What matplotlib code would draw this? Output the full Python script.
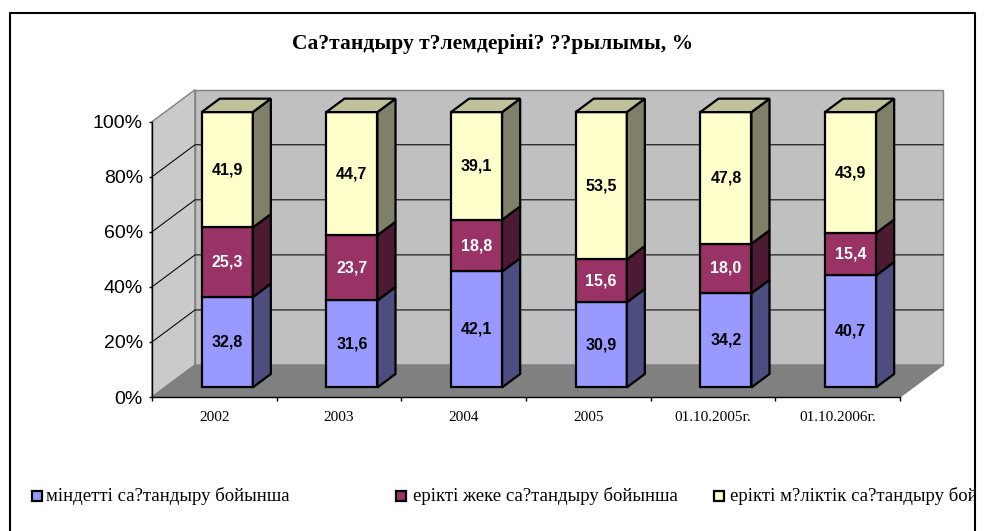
import matplotlib
matplotlib.use("Agg")
import matplotlib.pyplot as plt
from matplotlib.patches import Polygon, Rectangle
from matplotlib.lines import Line2D

# data
categories = ["2002", "2003", "2004", "2005", "01.10.2005г.", "01.10.2006г."]
mandatory = [32.8, 31.6, 42.1, 30.9, 34.2, 40.7]
personal = [25.3, 23.7, 18.8, 15.6, 18.0, 15.4]
property_vol = [41.9, 44.7, 39.1, 53.5, 47.8, 43.9]
series_names = ["міндетті са?тандыру бойынша",
                "ерікті жеке са?тандыру бойынша",
                "ерікті м?ліктік са?тандыру бойынша"]
title = "Са?тандыру т?лемдерiнi? ??рылымы, %"
yticks = [0, 20, 40, 60, 80, 100]

series = [mandatory, personal, property_vol]
front_col = ["#9999FF", "#993366", "#FFFFCC"]
side_col = ["#4D4D80", "#4D1A33", "#80806A"]
top_col = ["#7A7ACC", "#7A2952", "#C0C09A"]
label_col = ["black", "white", "black"]

W, H = 986, 531
fig = plt.figure(figsize=(W / 100, H / 100), dpi=100)
fig.patch.set_facecolor("white")

ax = fig.add_axes([152 / W, 1 - 397 / H, (900 - 152) / W, (397 - 121.7) / H])
ax.set_xlim(0, len(categories))
ax.set_ylim(0, 100)
ax.patch.set_visible(False)
for s in ["top", "right"]:
    ax.spines[s].set_visible(False)
for s in ["left", "bottom"]:
    ax.spines[s].set_color("black")
    ax.spines[s].set_linewidth(1.0)
    ax.spines[s].set_zorder(5)

# fake 3d depth in data units
DX = 43 / 124.67
DY = 32 / 2.7533
F0, F1 = 0.30, 0.72
BW = 0.41
n = len(categories)

# walls and floor
ax.add_patch(Polygon([(0, 0), (DX, DY), (DX, 100 + DY), (0, 100)],
                     closed=True, fc="#CACACA", ec="#808080", lw=1, zorder=0.2, clip_on=False))
ax.add_patch(Polygon([(DX, DY), (n + DX, DY), (n + DX, 100 + DY), (DX, 100 + DY)],
                     closed=True, fc="#C0C0C0", ec="#808080", lw=1, zorder=0.2, clip_on=False))
ax.add_patch(Polygon([(0, 0), (n, 0), (n + DX, DY), (DX, DY)],
                     closed=True, fc="#808080", ec="#808080", lw=1, zorder=0.3, clip_on=False))
for t in yticks[1:-1]:
    ax.add_line(Line2D([0, DX, n + DX], [t, t + DY, t + DY], color="black", lw=0.75,
                       zorder=0.4, clip_on=False))

# stacked bars
d = (F1 - F0) * DX
dd = (F1 - F0) * DY
for i in range(n):
    x0 = i + 0.5 + F0 * DX - BW / 2
    x1 = x0 + BW
    base = F0 * DY
    for j, vals in enumerate(series):
        v = vals[i]
        y0, y1 = base, base + v
        ax.add_patch(Polygon([(x0, y0), (x1, y0), (x1, y1), (x0, y1)], closed=True,
                             fc=front_col[j], ec="black", lw=1.6, zorder=2, clip_on=False,
                             joinstyle="miter"))
        ax.add_patch(Polygon([(x1, y0), (x1 + d, y0 + dd), (x1 + d, y1 + dd), (x1, y1)],
                             closed=True, fc=side_col[j], ec="black", lw=1.6, zorder=2,
                             clip_on=False, joinstyle="miter"))
        if j == len(series) - 1:
            ax.add_patch(Polygon([(x0, y1), (x1, y1), (x1 + d, y1 + dd), (x0 + d, y1 + dd)],
                                 closed=True, fc=top_col[j], ec="black", lw=1.6, zorder=2,
                                 clip_on=False, joinstyle="miter"))
        ax.text((x0 + x1) / 2, (y0 + y1) / 2, f"{v:.1f}".replace(".", ","),
                ha="center", va="center", fontsize=11.5, fontweight="bold",
                family="Liberation Sans", color=label_col[j], zorder=3)
        base = y1

# axes ticks
ax.set_xticks(range(n + 1))
ax.set_xticklabels([])
ax.set_xticks([i + 0.5 for i in range(n)], minor=True)
ax.set_xticklabels(categories, minor=True, fontsize=11, family="Liberation Serif")
ax.tick_params(axis="x", which="major", length=3, width=1, direction="out")
ax.tick_params(axis="x", which="minor", length=0, pad=10)
ax.set_yticks(yticks)
ax.set_yticklabels([f"{t}%" for t in yticks], fontsize=14, family="Liberation Sans")
ax.tick_params(axis="y", length=2.5, width=1, direction="out", pad=4)

fig.text(493 / W, 1 - 44 / H, title, ha="center", va="center", fontsize=15.5,
         fontweight="bold", family="Liberation Serif")

# legend
sq_x = [36.5, 401, 719]
tx_x = [46, 413, 730]
ly = 496
for j, name in enumerate(series_names):
    fig.add_artist(Rectangle(((sq_x[j] - 5) / W, 1 - (ly + 5) / H), 10 / W, 10 / H,
                             transform=fig.transFigure, fc=front_col[j], ec="black", lw=1.6))
    fig.text(tx_x[j] / W, 1 - ly / H, name, ha="left", va="center", fontsize=13.5,
             family="Liberation Serif")

# outer frame, text past the right edge is cut off as in the original
fig.add_artist(Rectangle((975 / W, 0), 11 / W, 1, transform=fig.transFigure,
                         fc="white", ec="none", zorder=10))
fig.add_artist(Line2D([10 / W, 10 / W, 974.5 / W, 974.5 / W], [0, 1 - 13 / H, 1 - 13 / H, 0],
                      transform=fig.transFigure, color="black", lw=1.5, zorder=11))

fig.savefig("out.png", dpi=100)
